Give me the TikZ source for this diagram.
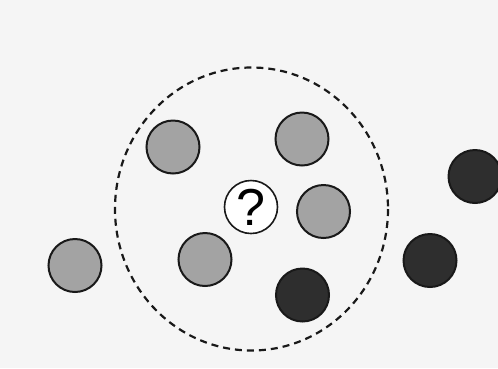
\documentclass[tikz,border=0pt]{standalone}
\usepackage{fontspec}
\setmainfont{Liberation Sans}
\begin{document}
\begin{tikzpicture}[x=1pt,y=-1pt,
  dot/.style={circle,draw=black!90,line width=2pt,minimum size=53pt,inner sep=0pt},
  graydot/.style={dot,fill=black!36},
  darkdot/.style={dot,fill=black!82},
  qdot/.style={dot,fill=white,line width=1.6pt},
  zone/.style={draw=black!90,line width=2.2pt,dash pattern=on 7pt off 5pt}]
\fill[black!4] (0,0) rectangle (498,368);
\useasboundingbox (0,0) rectangle (498,368);
\draw[zone] (251.5,209) ellipse [x radius=136.5, y radius=141.5];
\node[graydot] (g1) at (173,147) {};
\node[graydot] (g2) at (302,139) {};
\node[graydot] (g3) at (323.5,211.5) {};
\node[graydot] (g4) at (205,259.5) {};
\node[graydot] (g5) at (75,265.5) {};
\node[qdot] (q) at (251,207) {\fontsize{52}{52}\selectfont ?};
\node[darkdot] (d1) at (302.5,295) {};
\node[darkdot] (d2) at (430,260.5) {};
\node[darkdot] (d3) at (475,176.5) {};
\end{tikzpicture}
\end{document}
